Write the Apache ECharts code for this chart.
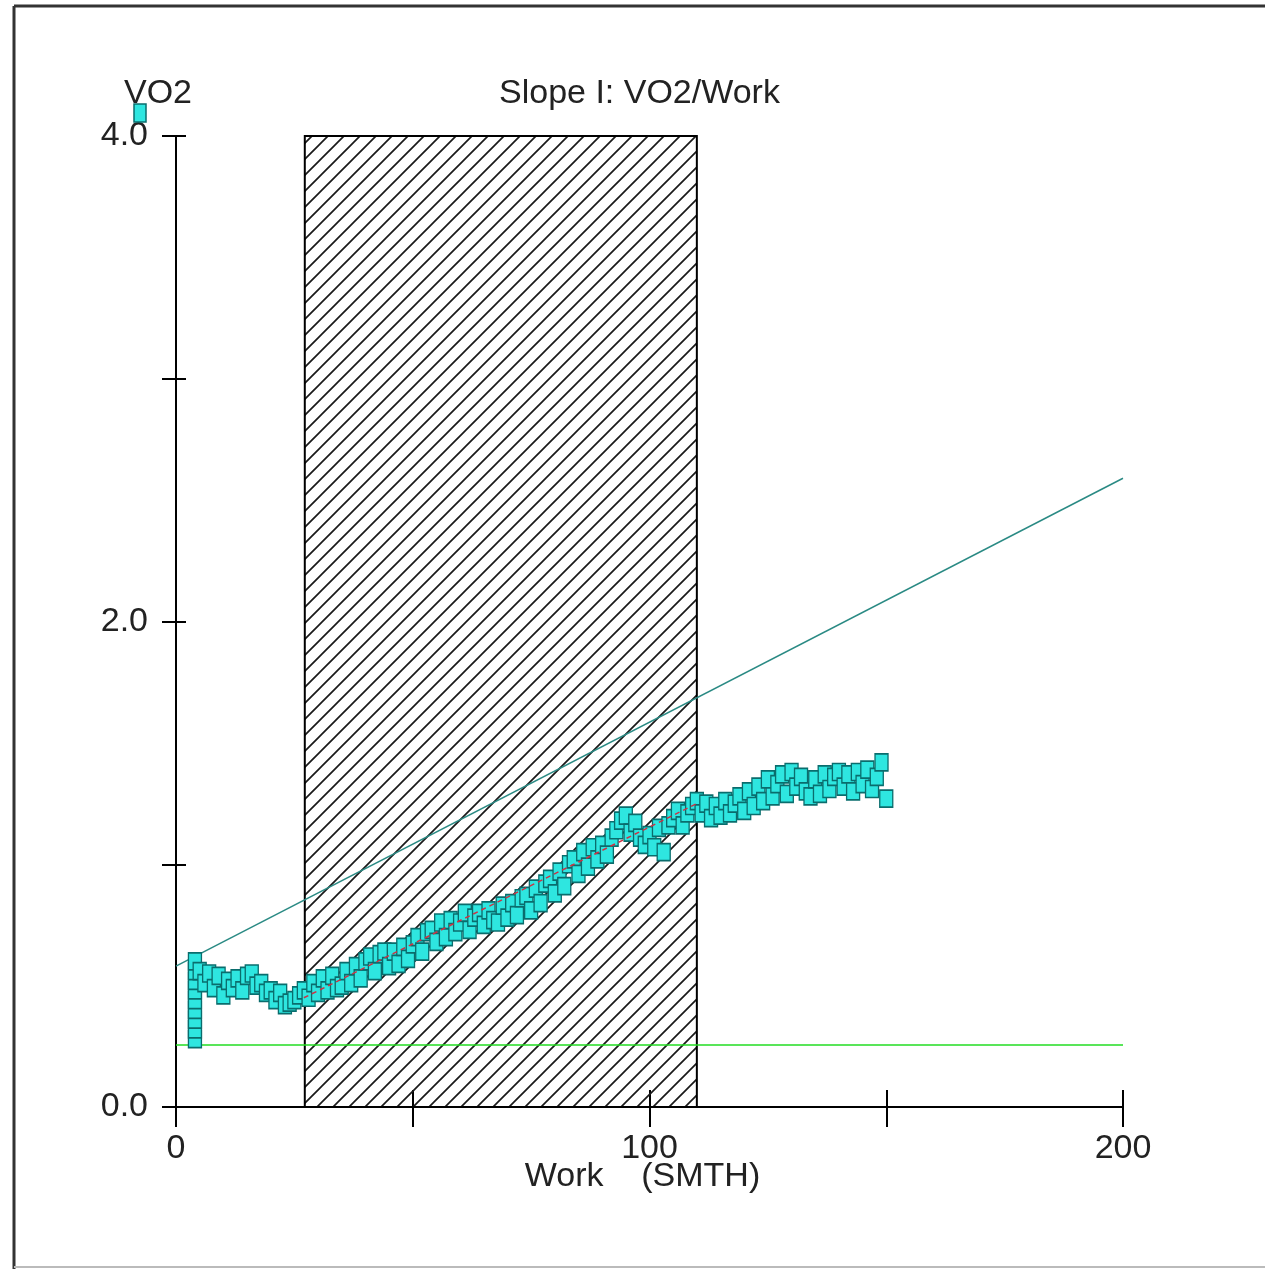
<!DOCTYPE html>
<html>
<head>
<meta charset="utf-8">
<script src="https://cdn.jsdelivr.net/npm/echarts@6/dist/echarts.min.js"></script>
<style>
  html, body { margin: 0; padding: 0; background: #fff; }
  #main { width: 1265px; height: 1269px; }
</style>
</head>
<body>
<div id="main"></div>
<script>
// VO2 samples (SMTH) vs work
var work = [4,4,4,4,4,4,4,4,4,
  5,6,7,8,9,10,11,12,13,14,15,16,17,18,19,20,21,22,23,24,25,26,27,28,29,30,
  31,32,33,34,35,36,37,38,39,40,41,42,43,44,45,46,47,48,49,50,
  51,52,53,54,55,56,57,58,59,60,61,62,63,64,65,66,67,68,69,70,
  71,72,73,74,75,76,77,78,79,80,81,82,83,84,85,86,87,88,89,90,
  91,92,93,94,95,96,97,98,99,100,101,102,103,104,105,106,107,108,109,110,
  111,112,113,114,115,116,117,118,119,120,121,122,123,124,125,126,127,128,129,130,
  131,132,133,134,135,136,137,138,139,140,141,142,143,144,145,146,147,148,149,150];
var vo2 = [0.28,0.32,0.36,0.40,0.44,0.48,0.52,0.56,0.60,
  0.56,0.51,0.55,0.49,0.54,0.46,0.52,0.49,0.53,0.48,0.54,0.55,0.50,0.51,0.47,0.48,0.44,0.47,0.42,0.43,0.44,0.46,0.48,0.45,0.51,0.47,
  0.53,0.48,0.54,0.49,0.50,0.56,0.51,0.58,0.53,0.60,0.62,0.56,0.63,0.64,0.58,0.64,0.59,0.66,0.61,0.67,
  0.70,0.64,0.72,0.73,0.68,0.76,0.70,0.77,0.72,0.76,0.80,0.73,0.78,0.80,0.75,0.81,0.77,0.76,0.83,0.78,
  0.84,0.79,0.86,0.87,0.81,0.90,0.84,0.92,0.94,0.88,0.97,0.91,1.00,1.02,0.96,1.05,0.99,1.07,1.02,1.08,
  1.04,1.11,1.14,1.18,1.20,1.13,1.17,1.11,1.08,1.12,1.07,1.15,1.05,1.16,1.19,1.22,1.16,1.21,1.24,1.26,
  1.21,1.25,1.19,1.24,1.20,1.26,1.21,1.25,1.28,1.22,1.30,1.24,1.32,1.26,1.35,1.28,1.33,1.37,1.29,1.38,
  1.32,1.36,1.30,1.28,1.35,1.29,1.37,1.31,1.36,1.38,1.32,1.37,1.30,1.38,1.33,1.39,1.31,1.36,1.42,1.27];

var hatchRange = [27.2, 110];          // selected work range
var fitLine = [[27, 0.45], [110, 1.25]]; // slope fit inside range
var slopeLine = [[0, 0.58], [200, 2.59]];
var baseLine = [[0, 0.255], [200, 0.255]];
var yTickLabels = [0, 2, 4];
var xTickLabels = [0, 100, 200];

// hatch pattern "/" for the selected range
var pat = document.createElement('canvas');
pat.width = 16; pat.height = 16;
var g = pat.getContext('2d');
g.strokeStyle = '#1a1a1a';
g.lineWidth = 1.7;
g.beginPath();
g.moveTo(-2, 18); g.lineTo(18, -2);
g.moveTo(-2, 2); g.lineTo(2, -2);
g.moveTo(14, 18); g.lineTo(18, 14);
g.stroke();

var seriesData = work.map(function (w, i) { return [w, vo2[i]]; });

var FONT = 'Liberation Sans';
var FS = 34;
var txt = '#222';

var option = {
    backgroundColor: '#fff',
    animation: false,
    grid: { left: 176, right: 142, top: 136, bottom: 162 },
    xAxis: [
        {
            type: 'value', min: 0, max: 200, interval: 50,
            axisLine: { onZero: false, lineStyle: { color: '#000', width: 2 } },
            axisTick: { length: 20, lineStyle: { color: '#000', width: 2 } },
            splitLine: { show: false },
            axisLabel: {
                margin: 25, fontSize: FS, fontFamily: FONT, color: txt,
                formatter: function (v) { return xTickLabels.indexOf(v) >= 0 ? String(v) : ''; }
            },
            name: 'Work    (SMTH)', nameLocation: 'middle', nameGap: 53, nameMoveOverlap: false,
            nameTextStyle: { fontSize: FS, fontFamily: FONT, color: txt, padding: [0, 0, 0, -14] }
        },
        {
            type: 'value', min: 0, max: 200, interval: 50, position: 'bottom',
            axisLine: { show: false },
            axisTick: { inside: true, length: 17, lineStyle: { color: '#000', width: 2 } },
            axisLabel: { show: false }, splitLine: { show: false }
        }
    ],
    yAxis: [
        {
            type: 'value', min: 0, max: 4, interval: 1,
            axisLine: { show: true, onZero: false, lineStyle: { color: '#000', width: 2 } },
            axisTick: { show: true, length: 14, lineStyle: { color: '#000', width: 2 } },
            splitLine: { show: false },
            axisLabel: {
                margin: 28, fontSize: FS, fontFamily: FONT, color: txt,
                formatter: function (v) { return yTickLabels.indexOf(v) >= 0 ? v.toFixed(1) : ''; }
            }
        },
        {
            type: 'value', min: 0, max: 4, interval: 1, position: 'left',
            axisLine: { show: false },
            axisTick: { show: true, inside: true, length: 10, lineStyle: { color: '#000', width: 2 } },
            axisLabel: { show: false }, splitLine: { show: false }
        }
    ],
    graphic: [
        { type: 'line', shape: { x1: 14, y1: 6, x2: 1265, y2: 6 }, style: { stroke: '#333', lineWidth: 3 } },
        { type: 'line', shape: { x1: 14, y1: 6, x2: 14, y2: 1269 }, style: { stroke: '#333', lineWidth: 3 } },
        { type: 'line', shape: { x1: 14, y1: 1267, x2: 1265, y2: 1267 }, style: { stroke: '#bbb', lineWidth: 2 } },
        { type: 'text', left: 124, top: 77, style: { text: 'VO2', fontSize: FS, fontFamily: FONT, fill: txt } },
        { type: 'text', left: 499, top: 77, style: { text: 'Slope I: VO2/Work', fontSize: FS, fontFamily: FONT, fill: txt } },
        { type: 'rect', shape: { x: 134, y: 104, width: 12, height: 18 }, style: { fill: '#2ee6e0', stroke: '#0a6d6d', lineWidth: 1.5 }, z: 10 }
    ],
    series: [
        {
            type: 'line', data: baseLine, symbol: 'none', z: 2,
            lineStyle: { color: '#22dd22', width: 1.5 }
        },
        {
            type: 'line', data: slopeLine, symbol: 'none', z: 2,
            lineStyle: { color: '#2a8a84', width: 1.5 },
            markArea: {
                silent: true,
                itemStyle: { color: { image: pat, repeat: 'repeat' }, borderColor: '#000', borderWidth: 2 },
                data: [[{ xAxis: hatchRange[0], yAxis: 0 }, { xAxis: hatchRange[1], yAxis: 4 }]]
            }
        },
        {
            type: 'scatter', data: seriesData, symbol: 'rect', symbolSize: [13, 17], z: 4,
            itemStyle: { color: '#2ee6e0', borderColor: '#0a6d6d', borderWidth: 1.5, opacity: 1 }
        },
        {
            type: 'line', data: fitLine, symbol: 'none', z: 5,
            lineStyle: { color: '#cc3344', width: 1.5, type: [5, 4] }
        }
    ]
};

var myChart = echarts.init(document.getElementById('main'));
myChart.setOption(option);
</script>
</body>
</html>
